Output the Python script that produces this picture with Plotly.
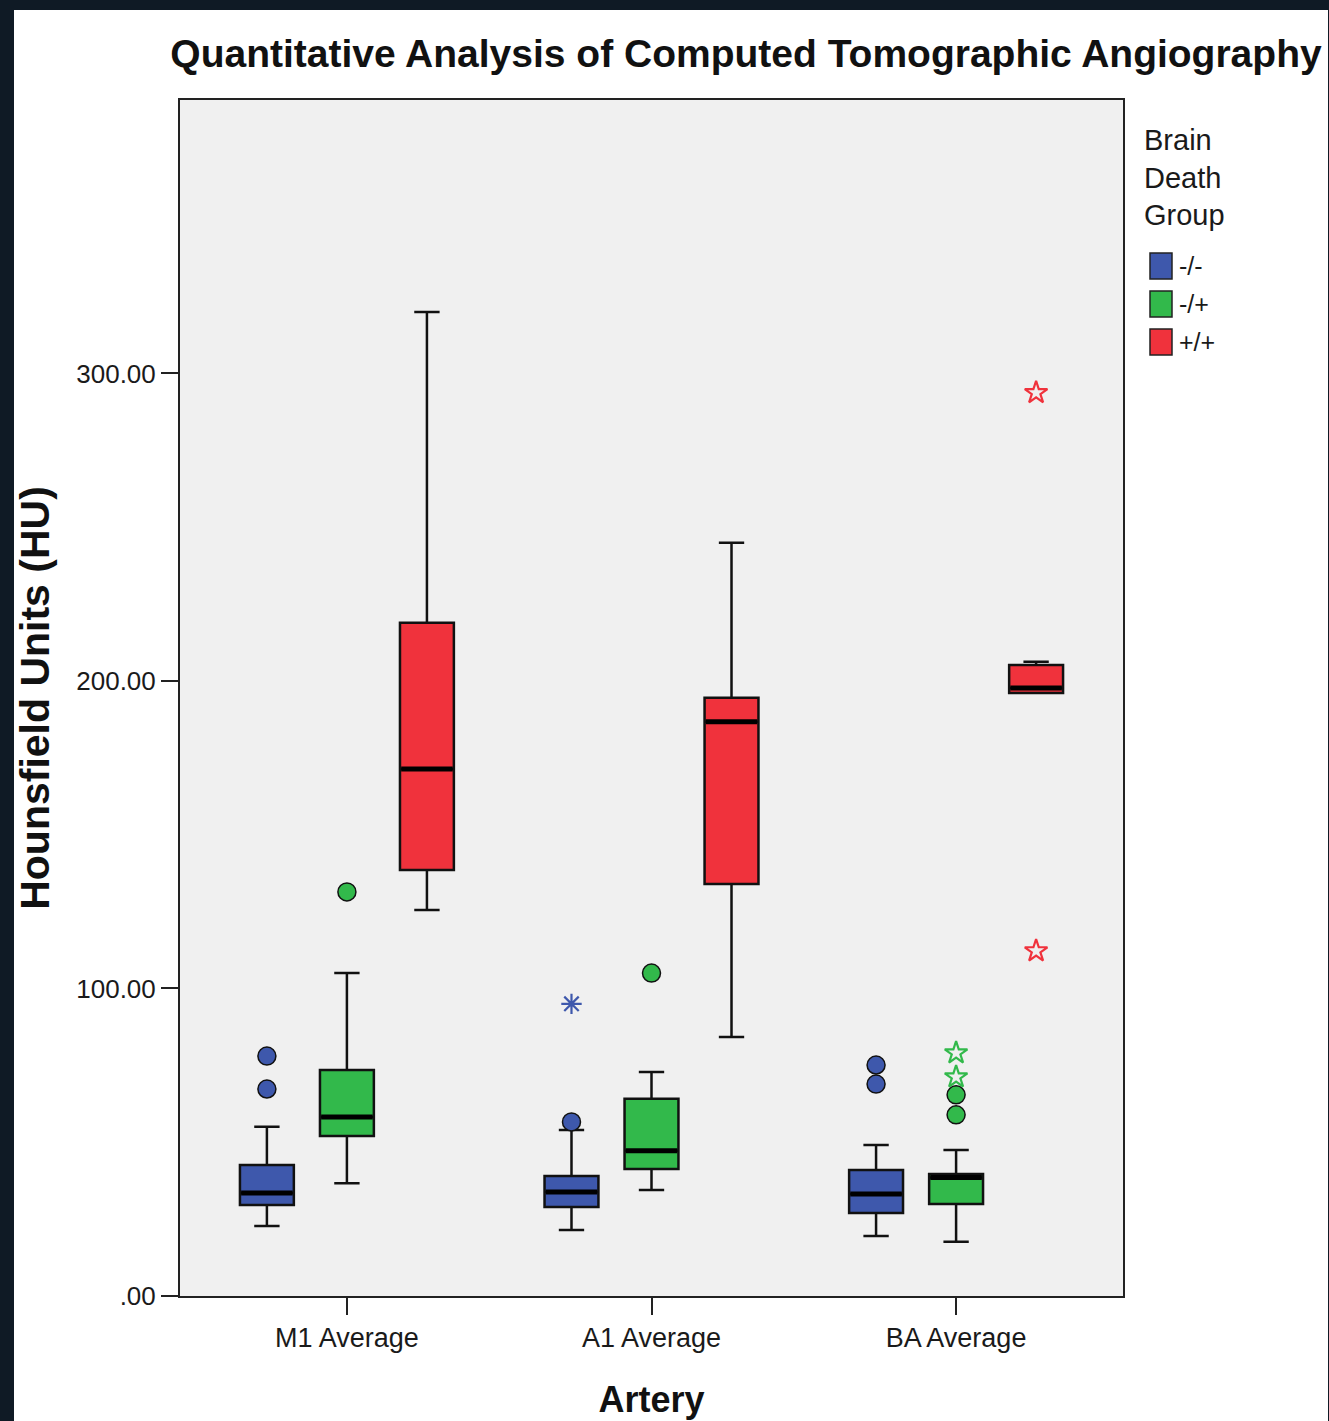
import plotly.graph_objects as go

# ---------------- data ----------------
arteries = ["M1 Average", "A1 Average", "BA Average"]
groups = ["-/-", "-/+", "+/+"]
group_colors = ["#3e58ac", "#32b94b", "#f0323c"]

# per group (rows) and artery (columns)
lower_whisker = [[22.8, 21.5, 19.5], [36.7, 34.5, 17.6], [125.5, 84.2, 196.1]]
q1_values = [[29.6, 28.9, 27.0], [52.0, 41.3, 29.9], [138.5, 134.0, 196.1]]
median_values = [[33.5, 33.8, 33.2], [58.2, 47.2, 38.5], [171.4, 186.7, 197.7]]
q3_values = [[42.6, 39.0, 41.0], [73.5, 64.1, 39.7], [218.9, 194.5, 205.2]]
upper_whisker = [[55.0, 54.0, 49.1], [105.0, 72.8, 47.5], [320.0, 244.9, 206.2]]

# outliers (circles)
outlier_group = [0, 0, 1, 0, 1, 0, 0, 1, 1]
outlier_artery = [0, 0, 0, 1, 1, 2, 2, 2, 2]
outlier_value = [78.0, 67.3, 131.4, 56.6, 105.0, 75.1, 68.9, 65.4, 58.9]

# extreme values (stars)
extreme_group = [0, 1, 1, 2, 2]
extreme_artery = [1, 2, 2, 2, 2]
extreme_value = [95.0, 79.0, 71.2, 293.7, 112.2]

y_tick_values = [0, 100, 200, 300]
y_tick_labels = [".00", "100.00", "200.00", "300.00"]

# ---------------- layout constants ----------------
W, H = 1329, 1421
ML, MR, MT, MB = 180, 206, 100, 125
PW, PH = W - ML - MR, H - MT - MB
GROUP_OFFSET = 0.2627
BOX_WIDTH = 0.177
X_RANGE = [-0.548, 2.548]
Y_RANGE = [0, 388.9]
FONT = "Liberation Sans, Arial, sans-serif"
FRAME = "#0f1a25"


def px_x(px):
    return (px - ML) / PW


def px_y(py):
    return (H - MB - py) / PH


fig = go.Figure()

for g, name in enumerate(groups):
    xs = [a + (g - 1) * GROUP_OFFSET for a in range(len(arteries))]
    fig.add_trace(go.Box(
        name=name, x=xs,
        q1=q1_values[g], median=median_values[g], q3=q3_values[g],
        lowerfence=lower_whisker[g], upperfence=upper_whisker[g],
        width=BOX_WIDTH, whiskerwidth=0.47,
        fillcolor=group_colors[g],
        line=dict(color="#111111", width=2.5),
        boxpoints=False, showlegend=False, hoverinfo="skip",
    ))
    # thick median bars
    mx, my = [], []
    for a, m in enumerate(median_values[g]):
        c = a + (g - 1) * GROUP_OFFSET
        mx += [c - BOX_WIDTH / 2 + 0.004, c + BOX_WIDTH / 2 - 0.004, None]
        my += [m, m, None]
    fig.add_trace(go.Scatter(x=mx, y=my, mode="lines",
                             line=dict(color="black", width=5),
                             showlegend=False, hoverinfo="skip"))

# outliers and extremes
for g in range(len(groups)):
    ox = [a + (g - 1) * GROUP_OFFSET for gg, a in zip(outlier_group, outlier_artery) if gg == g]
    oy = [v for gg, v in zip(outlier_group, outlier_value) if gg == g]
    fig.add_trace(go.Scatter(x=ox, y=oy, mode="markers",
                             marker=dict(symbol="circle", size=18, color=group_colors[g],
                                         line=dict(color="#111111", width=1.5)),
                             showlegend=False, hoverinfo="skip"))
    ex = [a + (g - 1) * GROUP_OFFSET for gg, a in zip(extreme_group, extreme_artery) if gg == g]
    ey = [v for gg, v in zip(extreme_group, extreme_value) if gg == g]
    fig.add_trace(go.Scatter(x=ex, y=ey, mode="markers",
                             marker=dict(symbol="asterisk-open" if g == 0 else "star-open",
                                         size=17, color=group_colors[g],
                                         line=dict(color=group_colors[g], width=2.2)),
                             showlegend=False, hoverinfo="skip"))

shapes = [
    # dark frame (left, top, right strips)
    dict(type="rect", xref="paper", yref="paper", layer="above",
         x0=px_x(-5), x1=px_x(14), y0=px_y(H + 5), y1=px_y(-5),
         fillcolor=FRAME, line=dict(width=0)),
    dict(type="rect", xref="paper", yref="paper", layer="above",
         x0=px_x(-5), x1=px_x(W + 5), y0=px_y(10), y1=px_y(-5),
         fillcolor=FRAME, line=dict(width=0)),
    dict(type="rect", xref="paper", yref="paper", layer="above",
         x0=px_x(W - 1), x1=px_x(W + 5), y0=px_y(H + 5), y1=px_y(-5),
         fillcolor=FRAME, line=dict(width=0)),
]
annotations = [
    dict(text="Brain<br>Death<br>Group", xref="paper", yref="paper",
         x=px_x(1142), y=px_y(122), xanchor="left", yanchor="top", align="left",
         showarrow=False, font=dict(family=FONT, size=29, color="#1a1a1a")),
]
legend_tops = [253, 291, 329]
for g, name in enumerate(groups):
    t = legend_tops[g]
    shapes.append(dict(type="rect", xref="paper", yref="paper",
                       x0=px_x(1150), x1=px_x(1172), y0=px_y(t + 26), y1=px_y(t),
                       fillcolor=group_colors[g], line=dict(color="#222222", width=1.5)))
    annotations.append(dict(text=name, xref="paper", yref="paper",
                            x=px_x(1177), y=px_y(t + 13), xanchor="left", yanchor="middle",
                            showarrow=False, font=dict(family=FONT, size=25, color="#1a1a1a")))

fig.update_layout(
    width=W, height=H, autosize=False,
    margin=dict(l=ML, r=MR, t=MT, b=MB, pad=0, autoexpand=False),
    paper_bgcolor="white", plot_bgcolor="#f0f0f0",
    showlegend=False,
    font=dict(family=FONT, color="#1a1a1a"),
    title=dict(text="<b>Quantitative Analysis of Computed Tomographic Angiography</b>",
               x=746 / W, xref="container", xanchor="center",
               y=1 - 53 / H, yref="container", yanchor="middle",
               font=dict(family=FONT, size=39, color="#111111")),
    shapes=shapes, annotations=annotations,
)
fig.update_xaxes(
    range=X_RANGE, tickvals=list(range(len(arteries))), ticktext=arteries,
    showgrid=False, zeroline=False, automargin=False,
    showline=True, linecolor="#222222", linewidth=2, mirror=True,
    ticks="outside", ticklen=17, tickwidth=2, tickcolor="#222222",
    tickfont=dict(family=FONT, size=27, color="#1a1a1a"),
    title=dict(text="<b>Artery</b>", standoff=34,
               font=dict(family=FONT, size=36, color="#111111")),
)
fig.update_yaxes(
    range=Y_RANGE, tickvals=y_tick_values, ticktext=y_tick_labels,
    showgrid=False, zeroline=False, automargin=False,
    showline=True, linecolor="#222222", linewidth=2, mirror=True,
    ticks="outside", ticklen=17, tickwidth=2, tickcolor="#222222",
    tickfont=dict(family=FONT, size=26, color="#1a1a1a"),
    title=dict(text="<b>Hounsfield Units (HU)</b>", standoff=14,
               font=dict(family=FONT, size=41, color="#111111")),
)

fig.write_html("out.html",
               config={"displayModeBar": False},
               post_script="document.body.style.margin='0';document.body.style.overflow='hidden';")
